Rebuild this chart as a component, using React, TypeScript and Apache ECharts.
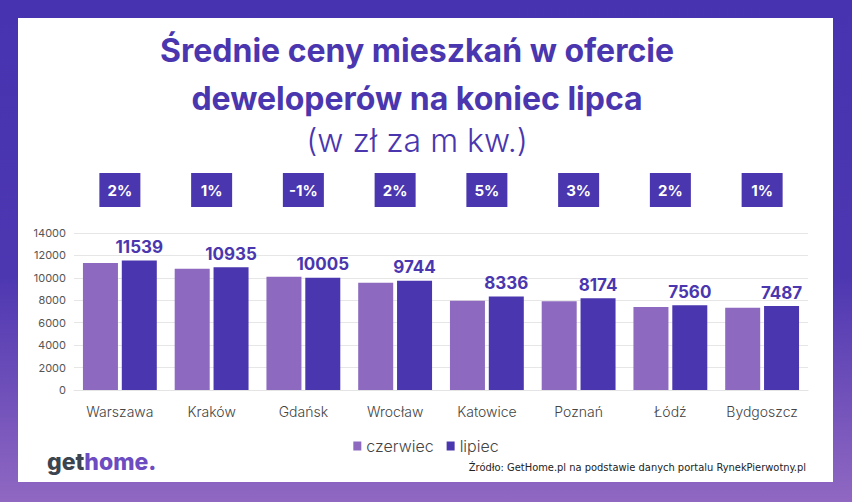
import React, { useEffect, useRef } from 'react';
import * as echarts from 'echarts';

const categories = ['Warszawa', 'Kraków', 'Gdańsk', 'Wrocław', 'Katowice', 'Poznań', 'Łódź', 'Bydgoszcz'];
const czerwiec = [11320, 10810, 10100, 9560, 7950, 7920, 7400, 7340];
const lipiec = [11539, 10935, 10005, 9744, 8336, 8174, 7560, 7487];
const changes = ['2%', '1%', '-1%', '2%', '5%', '3%', '2%', '1%'];
const seriesNames = ['czerwiec', 'lipiec'];
const titleLines = ['Średnie ceny mieszkań w ofercie', 'deweloperów na koniec lipca'];
const subtitle = '(w zł za m kw.)';
const sourceText = 'Źródło: GetHome.pl na podstawie danych portalu RynekPierwotny.pl';

const PURPLE = '#4a36ae';
const LIGHT = '#8d69bf';
const FONT = 'Inter, "Open Sans", sans-serif';

export default function App() {
  const ref = useRef<HTMLDivElement>(null);
  useEffect(() => {
    if (!ref.current) return;
    const chart = echarts.init(ref.current, undefined, { renderer: 'svg' });
    const baseGraphic: any[] = [
      {
        type: 'rect', z: -10, silent: true,
        shape: { x: 18, y: 18, width: 815, height: 464 },
        style: { fill: '#ffffff' },
      },
      {
        type: 'text', x: 417, y: 50,
        style: { text: titleLines[0], font: `700 32px ${FONT}`, fill: PURPLE, align: 'center', verticalAlign: 'middle' },
      },
      {
        type: 'text', x: 417, y: 98,
        style: { text: titleLines[1], font: `700 32px ${FONT}`, fill: PURPLE, align: 'center', verticalAlign: 'middle' },
      },
      {
        type: 'text', x: 417, y: 140,
        style: { text: subtitle, font: `300 32px ${FONT}`, fill: PURPLE, align: 'center', verticalAlign: 'middle' },
      },
      {
        type: 'text', left: 47, top: 450,
        style: {
          rich: {
            g: { font: `800 23px ${FONT}`, fill: '#3b444f' },
            h: { font: `800 23px ${FONT}`, fill: '#6c4cc0' },
          },
          text: '{g|get}{h|home.}',
        },
      },
      {
        type: 'text', right: 46, top: 462,
        style: { text: sourceText, font: '11px "Liberation Sans Narrow", "DejaVu Sans Condensed", sans-serif', fill: '#222' },
      },
    ];
    chart.setOption({
      animation: false,
      backgroundColor: new echarts.graphic.LinearGradient(0, 0, 0, 1, [
        { offset: 0, color: '#4733b0' },
        { offset: 0.55, color: '#4d37b1' },
        { offset: 1, color: '#9068c2' },
      ]),
      grid: { left: 74, right: 44, top: 233, bottom: 112 },
      legend: {
        top: 433, left: 'center', icon: 'rect', itemWidth: 8, itemHeight: 9, itemGap: 13,
        data: seriesNames,
        textStyle: { fontSize: 16, color: '#444', fontFamily: FONT, fontWeight: 300 },
      },
      xAxis: {
        type: 'category', data: categories,
        axisLine: { show: true, lineStyle: { color: '#e4e4e4' } },
        axisTick: { show: false },
        axisLabel: { interval: 0, fontSize: 14, color: '#444', margin: 14, fontFamily: FONT, fontWeight: 300 },
      },
      yAxis: {
        type: 'value', min: 0, max: 14000, interval: 2000,
        axisLine: { show: false }, axisTick: { show: false },
        splitLine: { lineStyle: { color: '#e6e6e6' } },
        axisLabel: { fontSize: 11, color: '#555', margin: 8, fontFamily: FONT, formatter: (v: number) => String(v) },
      },
      series: [
        {
          name: seriesNames[0], type: 'bar', data: czerwiec, barWidth: 35, barGap: '11%',
          itemStyle: { color: LIGHT },
        },
        {
          name: seriesNames[1], type: 'bar', data: lipiec, barWidth: 35,
          itemStyle: { color: PURPLE },
          label: {
            show: true, position: 'top', distance: 5, color: PURPLE,
            fontSize: 17, fontWeight: 700, fontFamily: FONT,
          },
        },
      ],
      graphic: baseGraphic,
    });
    const badges: any[] = categories.map((c, i) => {
      const x = chart.convertToPixel({ xAxisIndex: 0 }, c) as number;
      return {
        type: 'group', x: x - 20.5, y: 173,
        children: [
          { type: 'rect', shape: { x: 0, y: 0, width: 41, height: 34 }, style: { fill: PURPLE } },
          {
            type: 'text', x: 20.5, y: 17,
            style: { text: changes[i], font: `700 15px ${FONT}`, fill: '#fff', align: 'center', verticalAlign: 'middle' },
          },
        ],
      };
    });
    chart.setOption({ graphic: [...baseGraphic, ...badges] });
    return () => chart.dispose();
  }, []);
  return <div ref={ref} style={{ position: 'fixed', left: 0, top: 0, width: 852, height: 502 }} />;
}
